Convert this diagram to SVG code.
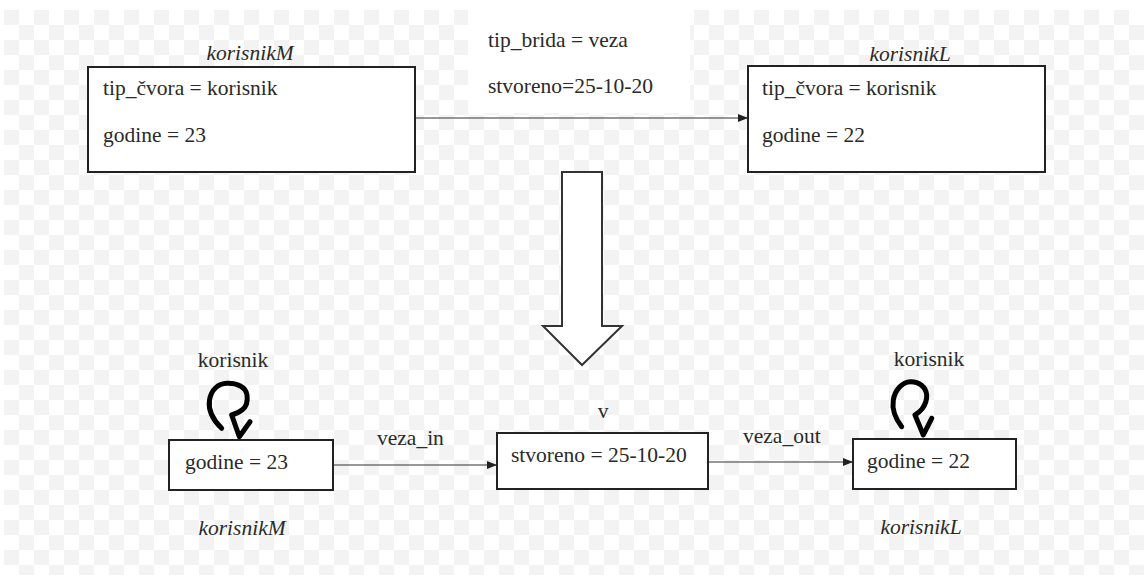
<svg xmlns="http://www.w3.org/2000/svg" width="1148" height="578" viewBox="0 0 1148 578">
  <defs>
    <pattern id="checker" x="4" y="10" width="30" height="30" patternUnits="userSpaceOnUse">
      <rect width="30" height="30" fill="#ffffff"/>
      <rect x="0" y="0" width="15" height="15" fill="#f3f3f3"/>
      <rect x="15" y="15" width="15" height="15" fill="#f3f3f3"/>
    </pattern>
    <marker id="arrow" viewBox="0 0 10 10" refX="10" refY="5" markerWidth="10" markerHeight="10" markerUnits="userSpaceOnUse" orient="auto">
      <path d="M0,1 L10,5 L0,9 Z" fill="#222"/>
    </marker>
    <style>
      .t { font-family: "Liberation Serif", "Times New Roman", serif; font-size: 21.5px; fill: #2a2a2a; }
      .it { font-style: italic; text-anchor: middle; }
      .c { text-anchor: middle; }
      .box { fill: #ffffff; stroke: #222; stroke-width: 2; }
      .edge { stroke: #333; stroke-width: 1.2; fill: none; marker-end: url(#arrow); }
      .loop { fill: none; stroke: #000; stroke-width: 5; stroke-linecap: round; stroke-linejoin: round; }
    </style>
  </defs>
  <rect width="1148" height="578" fill="#ffffff"/>
  <rect x="4" y="10" width="1140" height="565" fill="url(#checker)"/>
  <rect x="468" y="10" width="222" height="103" fill="#ffffff"/>

  <g id="connectors">
    <line class="edge" x1="415" y1="118" x2="748" y2="118"/>
    <line class="edge" x1="333" y1="465" x2="497" y2="465"/>
    <line class="edge" x1="708" y1="462" x2="853" y2="462"/>
  </g>

  <g id="edge-labels-top">
    <text class="t" x="488" y="47">tip_brida = veza</text>
    <text class="t" x="488" y="93">stvoreno=25-10-20</text>
  </g>

  <g id="korisnikM-top">
    <text class="t it" x="250" y="60">korisnikM</text>
    <rect class="box" x="88" y="67" width="327" height="105"/>
    <text class="t" x="103" y="95">tip_čvora = korisnik</text>
    <text class="t" x="103" y="142">godine = 23</text>
  </g>

  <g id="korisnikL-top">
    <text class="t it" x="910" y="61">korisnikL</text>
    <rect class="box" x="748" y="66" width="297" height="106"/>
    <text class="t" x="762" y="95">tip_čvora = korisnik</text>
    <text class="t" x="762" y="142">godine = 22</text>
  </g>

  <g id="transform-arrow">
    <path d="M562,172 L602,172 L602,326 L622,326 L582,365 L543,326 L562,326 Z" fill="#ffffff" stroke="#333" stroke-width="2"/>
  </g>

  <g id="korisnikM-bottom">
    <text class="t c" x="233" y="367">korisnik</text>
    <path class="loop" d="M221.7,428.3 C213,420 208,410 209.5,400 C211,390 218,383.5 227,383.3 C237,383 246,387 247,395 C248,402 246,407 242,410 C239,412.5 235,414 231.7,415 M231.7,415 L239.3,436.7 L250,421.7"/>
    <rect class="box" x="169" y="440" width="164" height="50"/>
    <text class="t" x="185" y="469">godine = 23</text>
    <text class="t it" x="242" y="535">korisnikM</text>
  </g>

  <g id="v-bottom">
    <text class="t c" x="603" y="418">v</text>
    <rect class="box" x="497" y="433" width="211" height="56"/>
    <text class="t" x="511" y="462">stvoreno = 25-10-20</text>
  </g>

  <g id="korisnikL-bottom">
    <text class="t c" x="929" y="366">korisnik</text>
    <path class="loop" d="M901.7,426.7 C895,418 892,408 893.3,400 C895,390 902,382 910.5,381.7 C919,381.5 926,387 926.7,395 C927,401 925,405 922,409 C920,411.5 917.5,413.5 915,415 M915,415 L923.3,435 L931.7,418.3"/>
    <rect class="box" x="853" y="439" width="163" height="50"/>
    <text class="t" x="867" y="468">godine = 22</text>
    <text class="t it" x="921" y="534">korisnikL</text>
  </g>

  <g id="edge-labels-bottom">
    <text class="t" x="377" y="445">veza_in</text>
    <text class="t" x="743" y="443">veza_out</text>
  </g>
</svg>
